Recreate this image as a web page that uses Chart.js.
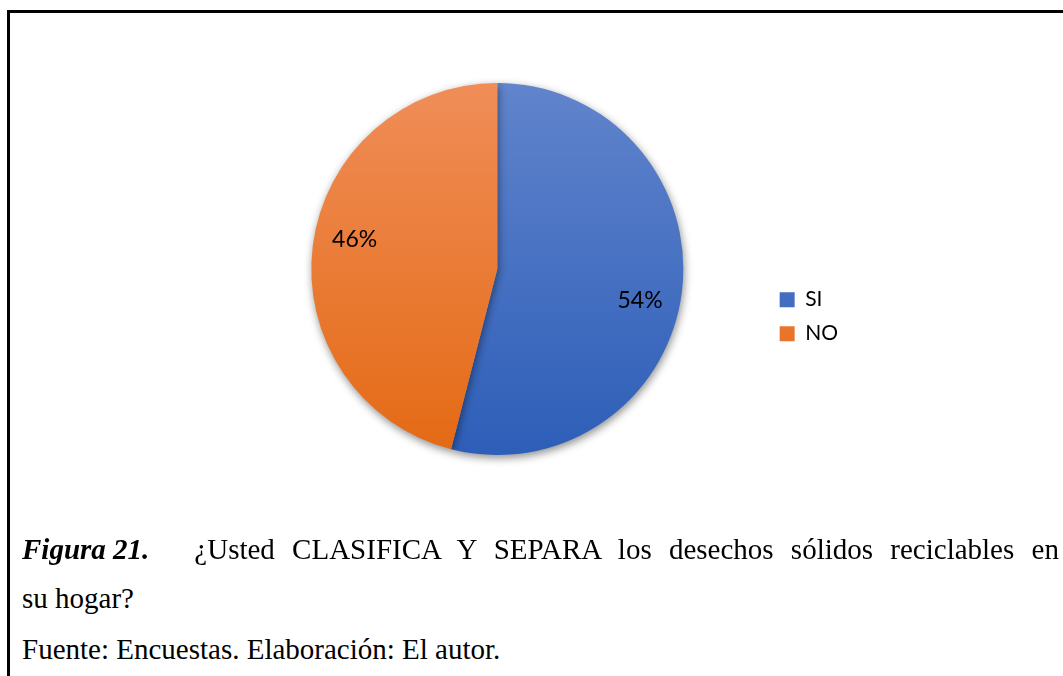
<!DOCTYPE html>
<html>
<head>
<meta charset="utf-8">
<script src="https://cdn.jsdelivr.net/npm/chart.js@4.4.1/dist/chart.umd.min.js"></script>
<style>
  html, body { margin: 0; padding: 0; background: #fff; width: 1063px; height: 676px; overflow: hidden; }
  #frame { position: absolute; left: 7px; top: 10px; width: 1200px; height: 800px; border: 3px solid #000; box-sizing: border-box; }
  #wrap { position: absolute; left: 0; top: 0; width: 1063px; height: 538px; }
  .cap { position: absolute; left: 22px; font-family: "Liberation Serif", "Times New Roman", serif; font-size: 29px; line-height: 29px; white-space: nowrap; color: #000; }
  .fig { font-weight: bold; font-style: italic; }
</style>
</head>
<body>
<div id="frame"></div>
<div id="wrap"><canvas id="c"></canvas></div>
<div class="cap" style="top:535px;"><span class="fig">Figura 21.</span><span style="display:inline-block;width:45px"></span><span style="word-spacing:10px">¿Usted CLASIFICA Y SEPARA los desechos sólidos reciclables en</span></div>
<div class="cap" style="top:584px;">su hogar?</div>
<div class="cap" style="top:635px;">Fuente: Encuestas. Elaboración: El autor.</div>
<script>
const categories = ["SI", "NO"];
const percentValues = [54, 46];
const colorsTop = ["#6184CC", "#F08D58"];
const colorsBottom = ["#2D5EB8", "#E46A14"];

const RADIUS = 186;

function sliceFill(context) {
  const chart = context.chart;
  const area = chart.chartArea;
  const i = context.dataIndex;
  if (!area) return colorsTop[i];
  const cy = (area.top + area.bottom) / 2;
  const g = chart.ctx.createLinearGradient(0, cy - RADIUS, 0, cy + RADIUS);
  g.addColorStop(0, colorsTop[i]);
  g.addColorStop(1, colorsBottom[i]);
  return g;
}

const shadowPlugin = {
  id: 'pieShadow',
  beforeDatasetsDraw(chart) {
    const ctx = chart.ctx;
    ctx.save();
    ctx.shadowColor = 'rgba(0,0,0,0.45)';
    ctx.shadowBlur = 9;
    ctx.shadowOffsetX = 1;
    ctx.shadowOffsetY = 3;
  },
  afterDatasetsDraw(chart) {
    chart.ctx.restore();
  }
};

const labelPlugin = {
  id: 'sliceLabels',
  afterDatasetsDraw(chart) {
    const ctx = chart.ctx;
    const meta = chart.getDatasetMeta(0);
    const data = chart.data.datasets[0].data;
    ctx.save();
    ctx.font = '23px Lato';
    ctx.fillStyle = '#000';
    ctx.textAlign = 'center';
    ctx.textBaseline = 'middle';
    meta.data.forEach((arc, i) => {
      const p = arc.getProps(['x', 'y', 'startAngle', 'endAngle', 'outerRadius'], true);
      const mid = (p.startAngle + p.endAngle) / 2 + 5 * Math.PI / 180;
      const r = p.outerRadius * 0.785;
      ctx.fillText(data[i] + '%', p.x + Math.cos(mid) * r, p.y + Math.sin(mid) * r + 1);
    });
    ctx.restore();
  }
};

new Chart(document.getElementById('c'), {
  type: 'pie',
  data: {
    labels: categories,
    datasets: [{
      data: percentValues,
      backgroundColor: sliceFill,
      borderWidth: 0,
      radius: RADIUS,
      clip: false
    }]
  },
  options: {
    responsive: true,
    maintainAspectRatio: false,
    animation: false,
    events: [],
    layout: { padding: { left: 228, right: 215, top: 0, bottom: 0 } },
    plugins: {
      tooltip: { enabled: false },
      legend: {
        position: 'right',
        align: 'center',
        title: { display: true, text: ' ', font: { size: 12 }, padding: { top: 0, bottom: 81 } },
        labels: {
          boxWidth: 15,
          boxHeight: 15,
          padding: 13,
          color: '#000',
          font: { family: 'Lato', size: 21 }
        }
      }
    }
  },
  plugins: [shadowPlugin, labelPlugin]
});
</script>
</body>
</html>
